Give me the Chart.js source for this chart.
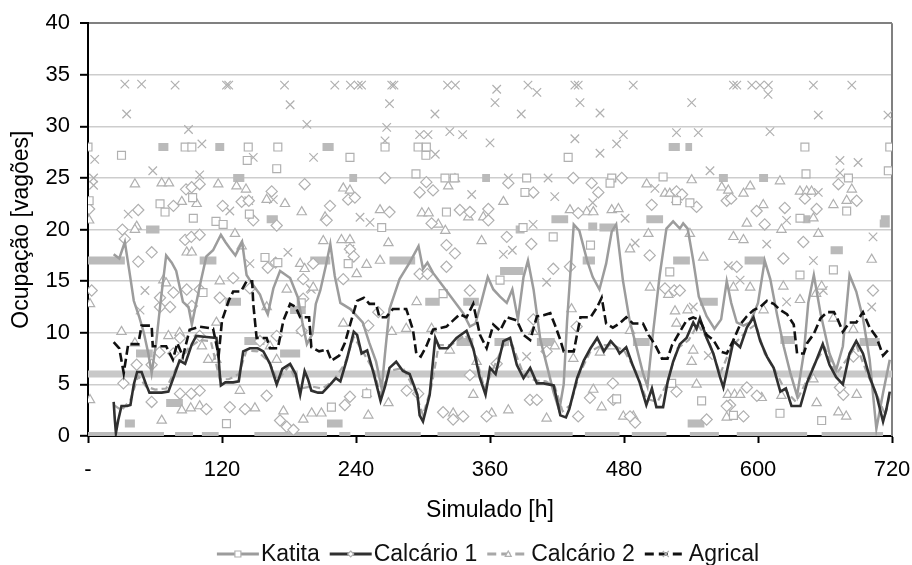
<!DOCTYPE html>
<html><head><meta charset="utf-8">
<script src="https://cdn.jsdelivr.net/npm/chart.js@4.4.1/dist/chart.umd.min.js"></script>
<style>html,body{margin:0;padding:0;background:#fff}#wrap{width:912px;height:565px;position:relative}</style>
</head><body><div id="wrap"><canvas id="c" width="912" height="565"></canvas></div>
<script>
// ---------- DATA ----------
const xTickValues = [0,120,240,360,480,600,720];
const yTickStep = 5;
const seriesNames = ['Katita','Calcário 1','Calcário 2','Agrical'];

// moving-average style lines [hour, value]
const katitaLine = [[23,17.6],[28,17.2],[33,18.8],[37,16],[41,13.1],[46,11.5],[50,10],[54,8],[57,6.1],[61,9],[65,13],[70,17.5],[75,16.8],[79,16],[85,13],[90,12.5],[93,10.8],[97,12.9],[101,15],[106,17.4],[112,18],[119,19.5],[123,18.8],[127,18.2],[132,17.5],[138,18.8],[142,15.6],[148,14.6],[154,13.7],[158,12.5],[161,11.8],[166,14.3],[172,16],[181,15.3],[188,13.4],[192,11],[196,8.9],[201,9.9],[204,12.8],[208,14.1],[213,16.5],[217,18.6],[221,15.5],[226,12.9],[235,12.3],[246,11],[252,9],[258,7.2],[263,4.6],[266,8],[270,12.3],[279,15.2],[288,16.8],[296,18.4],[300,16.2],[304,16.8],[309,15.8],[318,14.5],[327,13.2],[336,11.9],[342,10.6],[347,10.9],[352,12.9],[358,15.4],[363,14.2],[369,13.5],[375,12.9],[380,14.2],[385,11.3],[390,15.4],[394,17],[399,14.2],[405,9.4],[411,6.8],[417,4.2],[422,2.5],[426,5],[429,11.1],[435,20.5],[440,19.9],[447,17],[452,15.4],[458,14.2],[464,16.7],[469,19.8],[473,20.5],[479,15.1],[485,11.2],[491,8.7],[497,6.1],[501,4.8],[506,10],[512,15.6],[518,20.1],[524,20.8],[530,20.1],[533,20.6],[537,20.1],[542,17],[547,13.5],[554,11.6],[561,10.4],[567,11.3],[572,15],[576,12.9],[581,11],[587,10.7],[593,11],[600,12.9],[606,17],[611,15.2],[617,11.8],[623,8.7],[629,6.1],[635,3.9],[641,8],[645,12.9],[650,15.6],[656,11.9],[664,8],[670,6.4],[676,8.7],[682,15.6],[688,14],[694,11.4],[700,7.4],[706,0.7],[712,4.2],[718,7.4]];
const calc1Line = [[23,3.3],[24,1.6],[25,0.3],[27,1.5],[30,2.9],[35,2.9],[38,3],[41,5],[44,6.2],[48,6.2],[52,5],[55,4.2],[60,4.2],[66,4.2],[72,4.3],[76,5.5],[82,7.3],[87,7],[93,8.9],[97,9.7],[106,9.6],[115,9.5],[117,7.5],[118,6],[119,4.9],[123,5.2],[130,5.2],[135,5.3],[139,8.2],[145,8.5],[152,8.5],[157,8.2],[163,7],[169,5],[174,6.5],[181,7],[186,6],[190,4],[194,6.3],[197,5.5],[200,4.4],[206,4.2],[210,4.2],[217,5],[222,5.6],[226,5.3],[232,7.5],[238,10.1],[241,9.8],[245,8],[250,8.3],[256,6],[262,3.4],[266,4.8],[270,6.6],[276,7.2],[282,6.3],[288,6],[295,4],[297,2],[300,1.4],[306,4],[311,9.5],[315,8.5],[322,8.5],[330,9.5],[339,10.2],[345,8.5],[351,5.6],[356,4],[360,6.6],[365,6],[372,9.2],[378,9.5],[384,6.9],[390,5.6],[396,6.6],[402,5.1],[408,5.1],[417,4.9],[423,2],[428,1.8],[431,2.6],[438,5.6],[444,7.3],[450,8.5],[456,9.5],[462,8.2],[468,9.2],[473,8.6],[476,8],[482,8.6],[488,6.8],[494,5.2],[500,3],[505,4.6],[509,2.8],[515,2.8],[519,5.2],[524,7.2],[530,8.9],[536,9.5],[542,11],[545,10.4],[548,11.4],[554,9.5],[560,8],[566,5.7],[569,4.7],[574,7.2],[578,9.2],[584,8.6],[590,10.5],[596,11.5],[602,9.2],[608,7.7],[614,6.6],[620,4.3],[625,4.6],[630,2.9],[638,2.9],[644,5.2],[651,7],[658,8.9],[664,6.9],[670,5.7],[676,5],[682,8],[688,9.2],[694,8],[700,5.7],[706,4],[712,1.4],[715,2.6],[718,4.3]];
const calc2Line = [[23,3],[30,2.5],[38,3.5],[45,5.8],[52,4.8],[60,4.5],[70,4.6],[80,6.8],[90,8.5],[100,9.3],[110,9.2],[118,5.5],[126,5.5],[135,6],[142,8.3],[152,8.2],[162,7.2],[170,5.4],[180,6.8],[190,4.6],[200,4.8],[210,4.6],[220,5.4],[230,7],[238,9.6],[246,8.2],[256,6.3],[262,4],[270,6.3],[282,6.6],[292,4.6],[300,2],[308,5],[314,8.8],[325,8.8],[338,9.8],[346,8.2],[355,4.6],[362,6.3],[372,8.8],[380,8.8],[390,6],[400,5.4],[410,5.3],[418,4.8],[425,2.4],[432,3],[440,6],[450,8.2],[460,8.8],[470,8.8],[480,8.3],[490,6.4],[500,3.6],[510,3.3],[518,5],[528,8.5],[538,9.3],[546,10.8],[556,9.2],[566,6],[576,8.6],[590,10.2],[598,10.8],[606,8],[616,6.2],[624,4.5],[634,3.3],[642,5],[652,7.3],[660,8.5],[670,6],[680,7.5],[688,8.8],[698,6],[708,3.6],[714,2],[718,4]];
const agricalLine = [[23,9.1],[28,8.5],[32,6.1],[36,8.9],[45,8.9],[48,10.7],[57,10.7],[58,8.7],[70,8.7],[76,7.4],[80,9],[85,7.7],[91,10.3],[100,10.6],[112,10.4],[117,7.8],[120,11.2],[126,13.1],[130,14],[137,14],[142,15],[147,15],[148,12.8],[151,9.5],[160,9.5],[163,8.5],[170,8.5],[175,11.2],[181,12.8],[186,12.5],[190,11.5],[198,11.5],[200,8.6],[207,8.2],[214,8.4],[218,7.3],[225,7.8],[230,9],[235,10.9],[241,13.1],[247,13.4],[252,12.8],[258,12.8],[261,11.5],[267,11.5],[273,12.3],[285,12.3],[291,10.3],[294,8],[298,7.7],[303,8.7],[309,10.3],[321,10.6],[327,11.2],[333,11.8],[339,11.5],[345,12.8],[351,9.8],[357,8.5],[363,10.8],[369,10.2],[375,11.5],[384,11.2],[390,9.8],[396,9.3],[402,11.6],[408,11.7],[414,11.9],[418,10.8],[423,9.3],[426,8.2],[435,8.2],[437,9.3],[441,11.5],[450,11.5],[456,12.5],[460,13.4],[464,10.9],[470,10.5],[476,10.9],[482,11.5],[488,10.9],[497,10.9],[502,9.8],[508,8.8],[514,7.5],[519,7.5],[523,8.8],[530,10.1],[536,11.2],[542,11.5],[548,11.2],[554,9.8],[560,9.3],[566,8.2],[572,8],[578,9.3],[584,10.8],[590,11.6],[596,12.2],[602,12.5],[608,13.1],[614,12.8],[620,12.2],[626,11.8],[632,10.8],[635,8],[641,8],[644,9],[650,9.9],[656,11.4],[662,12],[668,12],[671,11.4],[676,10.1],[682,11],[688,11],[694,12],[700,10.5],[706,9.6],[712,7.8],[718,8.5]];

// raw observations [hour, value]
const katitaPts = [[0,28],[30,27.2],[87,28],[93,28],[143.5,28],[170,28],[142.6,26.7],[169,25.9],[64.5,22.5],[69,21.7],[94.3,21.1],[93.7,23.1],[114.6,20.8],[121,20.5],[144.5,21.5],[1,22.8],[234.6,27],[266,28],[295.6,28],[303,28],[302.6,27.2],[293.7,25.4],[319.7,25],[328,25],[392.8,25],[430,27],[469,25],[467.5,24.5],[391.3,23.6],[321,21.7],[263,20.2],[389.6,20.2],[642,28],[718,28],[515,25.1],[643,25.4],[681,25],[716.7,25.7],[539,22.6],[527,22.8],[679.4,21.8],[637.6,21.1],[124,1.2],[103,13.9],[158.5,17.3],[170,16.8],[191,12.9],[249.6,4.1],[218,2.8],[233,16.7],[318,13.8],[369,15.1],[416.6,19.3],[450,18.5],[521,15.9],[637.6,15.6],[667.5,16.1],[522.7,5.1],[473.4,3.6],[549.5,3.4],[578,2],[619.7,2.2],[657,1.5]];
const calc1Pts = [[1,22],[45,21.9],[76.5,22.3],[87.8,23.9],[92.8,24.1],[100,24.4],[120.6,22.3],[137.6,22.7],[144,22.8],[164.5,23.7],[194,24.4],[148,20.9],[169,20.4],[30.8,20],[216.7,22.3],[213.7,20.9],[233,22.9],[239,23.1],[266,25],[270,21.7],[297,23.6],[303,24.6],[309,23.8],[307.7,20.6],[333,21.9],[342,21.7],[358.5,22],[358.5,20.9],[376.4,24.5],[398.8,23.6],[434.6,25],[439,21.6],[451,24.5],[457,23.6],[478,25],[504.8,22.4],[527,23.7],[532,23.4],[545,22.2],[572,22.8],[576,23],[598.8,21.8],[606,20.5],[624,22.1],[652.5,22],[672,24.4],[688.4,22.8],[642,23],[3.3,14.1],[33,19.1],[45,16.9],[57,17.8],[87,19],[92.5,19.3],[100,19.5],[64.5,12.5],[73.5,12.5],[64.5,13.4],[76.5,13.9],[88.4,14.2],[100,14.2],[93,12.6],[118,13.4],[130,15.3],[145,14.3],[161,16.3],[168,16.8],[192.7,15.2],[192.7,13.3],[31.7,5.1],[43.6,6.9],[57,3.3],[82.4,4.1],[92.5,4.1],[100,4.4],[106,2.6],[127,2.8],[140.6,2.6],[160,3.9],[172,1.5],[178,0.9],[184,0.6],[57,6.9],[76.4,8],[64,8.1],[82.4,9.5],[100,9.7],[154,9.2],[169,9.7],[191.4,10.2],[201.6,16.7],[228.6,15.2],[234.6,18.1],[238,17.4],[251,10.7],[260,12],[297,15.7],[304,15.7],[321,18.5],[321,16.4],[328.6,17.7],[342,14.1],[375,19.3],[397,18.6],[416.7,16.2],[431.6,16.4],[437.6,10.6],[398.8,11.3],[234.6,3.8],[230,3],[318,2.3],[327,1.6],[336,1.9],[357,1.9],[395.8,3.5],[402,3.5],[410.7,8.2],[439,1.9],[449.5,3.7],[470.4,3.5],[295.7,4.1],[285.4,4.4],[342,5.9],[366,7],[503,17.5],[516.7,14.3],[525,14.1],[530,14.1],[581,16.4],[622.7,17.2],[640.6,18.8],[703,14.1],[685.4,7.7],[575,3],[572,2.9],[587,1.9],[599,3.9],[676.4,4],[470,5.1],[527,4.3],[590,4.7],[673.4,4.7],[485.4,1.9],[490,1.3],[554,1.6]];
const calc2Pts = [[42,24.4],[66,24.5],[72.5,24.5],[116.6,24.4],[97.3,22.5],[84,22.7],[133,24.2],[141.5,23.9],[160,22.9],[176.4,22.5],[191.4,21.7],[1,20.9],[43.6,20.3],[212.3,21.2],[228.6,24],[234.6,23.8],[261.5,21.9],[299,21.6],[305,21.6],[322.6,24.2],[328.6,24.9],[340.6,21.2],[354,21.2],[372,22.7],[431.6,21.9],[446.6,21.7],[452.5,21.7],[469,21.9],[475,22],[500.3,24.4],[516.7,23.5],[521,23.5],[527,22.9],[540.6,24.8],[567.5,24.1],[573.4,23.8],[587,23.5],[593,24.2],[619.7,24.7],[604.7,22.4],[637.6,23.7],[643.6,23.7],[648,23.7],[684,23.9],[679.4,22.8],[667.5,22.4],[649.6,21.1],[590,20.6],[1.8,12.8],[42,20],[30,10.1],[67.5,15.1],[70,14.8],[88.4,17.8],[92.9,17.8],[72,9.7],[82,10],[102,8.7],[115,11],[118,15],[131.6,19.6],[137.6,18.4],[160,12.5],[178,14.2],[190,16.7],[191.4,10.2],[1.8,3.5],[66,1.5],[84,2.5],[92,2.7],[100,2.9],[136,4.4],[149.5,2.7],[175,2.4],[192.8,1.6],[42,9],[107.7,7.4],[115,7.4],[163,8.7],[169,7.4],[210.7,18.9],[227,19],[234.6,19],[261.5,17],[269,18.7],[294.3,13],[313.7,20.5],[320,19.9],[352.5,18.9],[249.5,16.6],[240.6,15.7],[194,16.2],[201.7,14.4],[228.6,10.9],[272,10.1],[285,10.4],[307.7,10.4],[324,8.3],[348,7.2],[398.8,10.1],[433,12.3],[418,8.7],[434.6,7.5],[458.5,8.1],[200.3,2.2],[209,2.2],[249.5,4.1],[251,2],[269,3.2],[327,2.2],[345,4],[361.5,2.2],[376.4,2.5],[410.7,1.7],[460,2.8],[452.5,4.5],[501.8,19.6],[485.4,18.1],[539,19.6],[551,17.3],[578,19.3],[587,19],[621,20],[654,19.6],[701.8,17.1],[503.3,14.4],[519.7,13.7],[525.7,12.1],[537,12.2],[527,10.9],[542,8.3],[578,14.4],[593,14.4],[605,12.2],[622.7,14.5],[637.6,13.2],[652,13.8],[657,14.5],[667.5,11.4],[685.4,10.3],[469,8.7],[485.4,10.2],[540.6,7.2],[573,4],[579,4],[584,4],[603.3,3.7],[479.4,1.9],[488.4,1.9],[572,1.8],[621,3.9],[652.5,3.2],[688.4,4],[672,2.3],[679,1.9],[545,5],[649.6,5.5]];
const agricalPts = [[33,34.1],[48,34.1],[78,34],[124,34],[126,34],[176,34],[34.6,31.2],[181,32.1],[196,30.2],[90,29.7],[102,28.3],[6,26.8],[202,27],[58,25.7],[100,25.3],[5,25],[5,24.3],[36,21.5],[127,21.8],[148,27],[144,22.8],[166,22.9],[221,34],[235,34],[242,34],[245,34],[272,34],[274,34],[322,34],[329,34],[366,33.6],[394,34],[402,33.3],[436,34],[439,34],[270,32.2],[267.5,29.9],[310.7,31.2],[364.5,32.3],[388,31.2],[440.6,32.3],[458.5,31.3],[297,29.2],[304.5,29.2],[324,29.5],[335.5,29.2],[266,28.6],[360,28.4],[436,28.8],[311,27.3],[458.5,27.4],[473.4,28.3],[376.4,25],[412,25],[343.6,23.4],[418,23.2],[452,22.6],[243.6,21.2],[252.5,20.7],[398.6,20.5],[488.3,34],[540.6,32.3],[578,34],[581,34],[594.4,34],[601.8,34],[609.3,34],[609,33.1],[649.6,34],[684,34],[654,31.1],[716.4,31.1],[527,29.4],[546.5,29.4],[610.7,29.5],[479.4,29.2],[557,25.7],[673.4,26.7],[689.6,26.5],[673.4,25.5],[507.7,24],[654,23.6],[481,21.1],[625.6,20.9],[46.6,12.2],[51,14.1],[179,17.8],[200,14.2],[145,16.7],[199,14.3],[234.6,18.1],[372,17.6],[380,18],[410.7,14.9],[392.8,7.7],[607.8,18.6],[573.4,16.5],[649.6,17],[703,19.3],[701.8,12.5],[625.6,13],[658.5,14.1],[542,12.5],[555.5,7.8],[490,18.7],[584,15.1]];

// runs of consecutive equal observations [startHour, endHour, value]
const katitaRuns = [[0,68,0],[78,94,0],[102,117,0],[149,214,0],[225,235,0],[248,298,0],[313,351,0],[364,434,0],[445,476,0],[487,518,0],[539,565,0],[581,644,0],[657,712,0],
 [0,33,17],[100,115,17],[199,217,17],[270,293,17],[443,454,17],[524,539,17],[588,606,17],[369,390,16],[665,676,18],
 [63,72,28],[114,122,28],[210,220,28],[520,530,28],[535,541,28],
 [130,140,25],[234,241,25],[353,360,25],[565,573,25],[601,609,25],[468,473,25],
 [160,170,21],[415,430,21],[500,515,21],[640,647,21],[710,718,21],
 [52,64,20],[383,391,20],[448,456,20.3],[458,472,20.2],[709,718,20.6],
 [123,137,13],[302,315,13],[336,350,13],[548,564,13],[181,195,12.2],
 [140,158,9.2],[330,345,9.1],[364,377,9.1],[402,418,9.1],[488,503,9.1],[620,633,9.3],[691,709,9.1],
 [43,58,8],[172,190,8],[70,85,3.2],[33,42,1.2],[214,228,1.2],[537,552,1.2]];
const calc1Runs = [[0,188,6],[193,720,6]];

// ---------- CHART ----------
const FONT = '"Liberation Sans", Arial, sans-serif';
Chart.defaults.font.family = FONT;
const toXY = a => a.map(([x,y]) => ({x, y}));
const runsToXY = r => r.flatMap(([a,b,v]) => [{x:a,y:v},{x:b,y:v},{x:b,y:null}]);
const MARK = '#b0b0b0';

const lineStyle = [
  {data: katitaLine, color:'#9c9c9c', dash:[], order:2, pt:'rect', r:5.6, w:2.5},
  {data: calc1Line, color:'#303030', dash:[], order:1, pt:'rectRot', r:5.6, w:2.6},
  {data: calc2Line, color:'#a8a8a8', dash:[7,4], order:3, pt:'triangle', r:5.4, w:2.2},
  {data: agricalLine, color:'#111111', dash:[9,4], order:0, pt:'crossRot', r:6, w:2.6}
];
const ptsSets = [katitaPts, calc1Pts, calc2Pts, agricalPts];

const datasets = [];
lineStyle.forEach((s,i) => {
  datasets.push({label: seriesNames[i], data: toXY(s.data), showLine:true, borderColor:s.color, borderWidth:s.w,
    borderDash:s.dash, pointRadius:0, tension:0, order:s.order, fill:false});
});
ptsSets.forEach((p,i) => {
  datasets.push({label: seriesNames[i]+' obs', data: toXY(p), showLine:false, pointStyle: lineStyle[i].pt,
    pointRadius: lineStyle[i].r, borderColor: MARK, backgroundColor:'#ffffff', pointBorderWidth:1.2, order:10+i});
});
datasets.push({label:'Katita runs', data: runsToXY(katitaRuns), showLine:true, spanGaps:false, borderColor:'#bababa',
  borderWidth:8, borderCapStyle:'butt', pointRadius:0, order:20});
datasets.push({label:'Calcário 1 runs', data: runsToXY(calc1Runs), showLine:true, spanGaps:false, borderColor:'#c8c8c8',
  borderWidth:7, borderCapStyle:'butt', pointRadius:0, order:21});

function drawMarker(ctx, style, x, y, r){
  ctx.beginPath();
  if (style==='rect'){ const s=r; ctx.rect(x-s,y-s,2*s,2*s); ctx.fill(); ctx.stroke(); }
  else if (style==='rectRot'){ ctx.moveTo(x,y-r);ctx.lineTo(x+r,y);ctx.lineTo(x,y+r);ctx.lineTo(x-r,y);ctx.closePath();ctx.fill();ctx.stroke(); }
  else if (style==='triangle'){ ctx.moveTo(x,y-r);ctx.lineTo(x+r,y+r*0.8);ctx.lineTo(x-r,y+r*0.8);ctx.closePath();ctx.fill();ctx.stroke(); }
  else { ctx.moveTo(x-r,y-r);ctx.lineTo(x+r,y+r);ctx.moveTo(x+r,y-r);ctx.lineTo(x-r,y+r);ctx.stroke(); }
}

const framePlugin = {
  id:'frame',
  beforeDatasetsDraw(chart){
    const {ctx, chartArea:a} = chart;
    ctx.save(); ctx.strokeStyle='#808080'; ctx.lineWidth=2;
    ctx.beginPath(); ctx.moveTo(a.right, a.top); ctx.lineTo(a.right, a.bottom); ctx.stroke(); ctx.restore();
  }
};
const legendPlugin = {
  id:'lineLegend',
  afterDraw(chart){
    const ctx = chart.ctx; ctx.save();
    ctx.font = '23px ' + FONT; ctx.textBaseline='middle'; ctx.fillStyle='#111';
    const sw=42, gt=2, gi=10, y=554;
    const widths = seriesNames.map(n => sw + gt + ctx.measureText(n).width);
    const total = widths.reduce((a,b)=>a+b,0) + gi*(widths.length-1);
    let x = 488 - total/2;
    seriesNames.forEach((n,i) => {
      const s = lineStyle[i];
      ctx.strokeStyle = s.color; ctx.lineWidth = 3; ctx.setLineDash(s.dash.length?[9,5]:[]);
      ctx.beginPath(); ctx.moveTo(x, y); ctx.lineTo(x+sw, y); ctx.stroke(); ctx.setLineDash([]);
      ctx.fillStyle='#fff'; ctx.strokeStyle=MARK; ctx.lineWidth=1.2;
      drawMarker(ctx, s.pt, x+sw/2, y, 3);
      ctx.fillStyle='#111';
      ctx.fillText(n, x+sw+gt, y+1);
      x += widths[i] + gi;
    });
    ctx.restore();
  }
};

new Chart(document.getElementById('c'), {
  type:'scatter',
  data:{datasets},
  options:{
    responsive:false, animation:false, devicePixelRatio:1,
    layout:{padding:{top:22,right:20,left:0,bottom:0}},
    plugins:{legend:{display:false}, tooltip:{enabled:false}},
    scales:{
      x:{type:'linear', min:0, max:720, position:'bottom',
        afterBuildTicks: s => { s.ticks = xTickValues.map(v => ({value:v})); },
        ticks:{color:'#000', font:{size:22}, padding:14, maxRotation:0, autoSkip:false,
          callback: v => v === 0 ? '-' : String(v)},
        grid:{drawOnChartArea:false, tickLength:7, tickColor:'#000', tickWidth:2},
        border:{color:'#000', width:2},
        title:{display:true, text:'Simulado [h]', color:'#000', font:{size:23}, padding:{top:0,bottom:41}},
        afterFit: s => { s.height = 129; s.paddingRight = 20; s.paddingLeft = 0; }
      },
      y:{min:0, max:40,
        ticks:{stepSize:yTickStep, color:'#000', font:{size:22}, padding:10},
        grid:{color: c => c.tick && c.tick.value===40 ? '#808080' : '#cdcdcd',
              lineWidth: c => c.tick && c.tick.value===40 ? 2 : 1.6,
              tickLength:8, tickColor:'#000', tickWidth:2},
        border:{color:'#000', width:2},
        title:{display:true, text:'Ocupação [vagões]', color:'#000', font:{size:23}, padding:{top:8,bottom:0}},
        afterFit: s => { s.width = 88; }
      }
    }
  },
  plugins:[framePlugin, legendPlugin]
});
</script>
</body></html>
